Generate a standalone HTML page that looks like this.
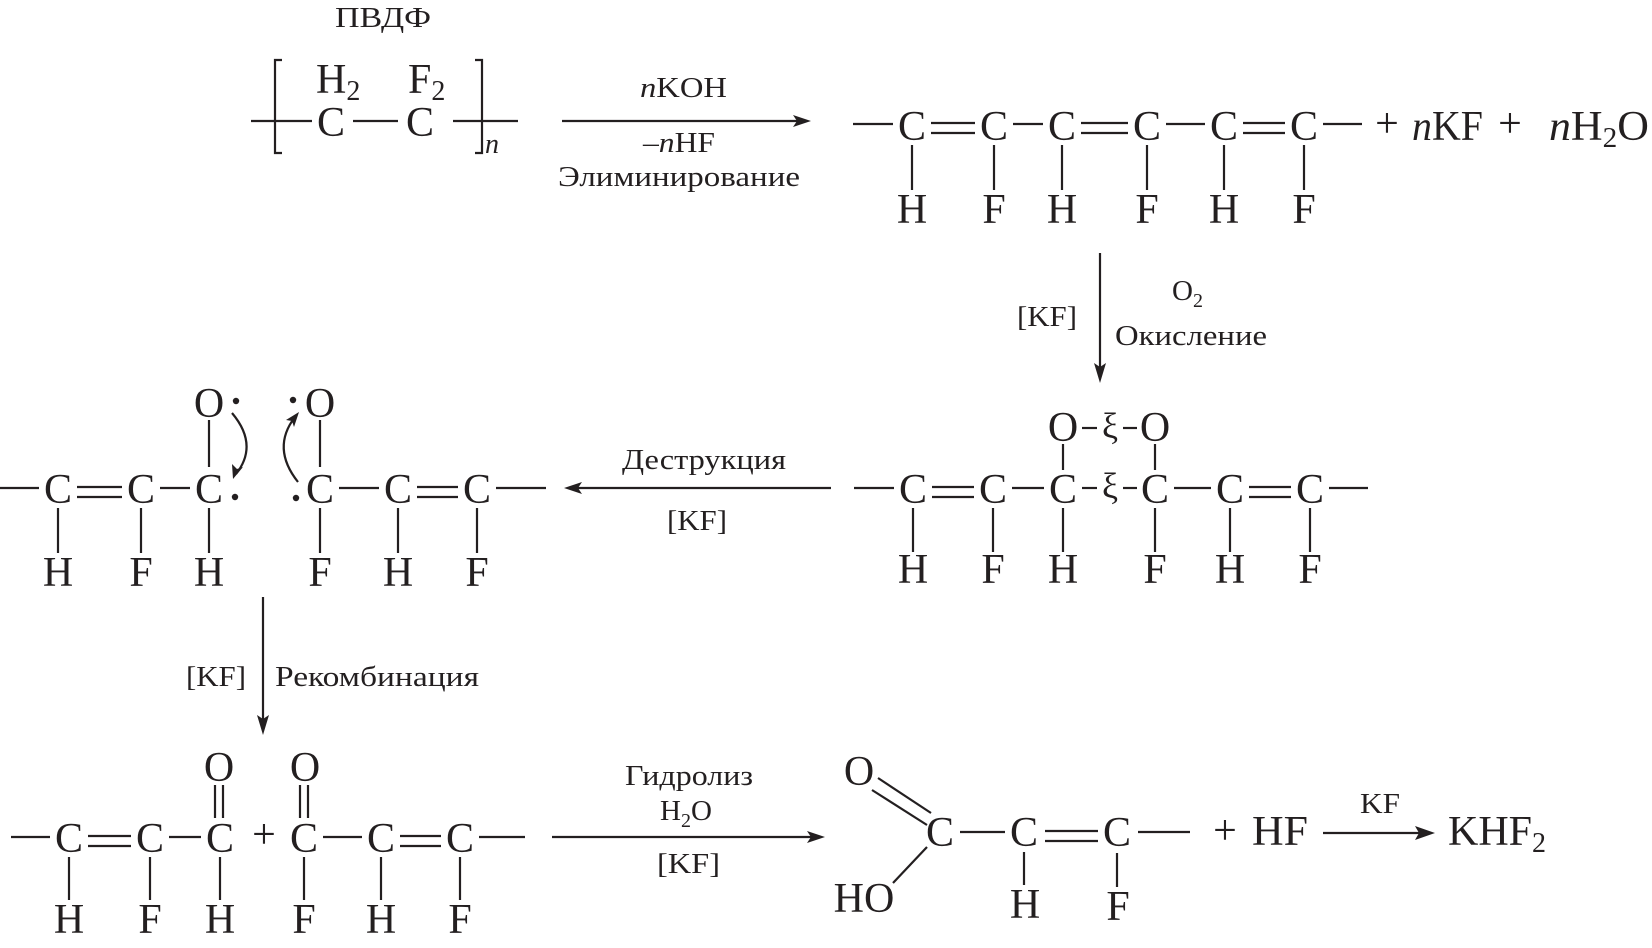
<!DOCTYPE html>
<html>
<head>
<meta charset="utf-8">
<style>
html,body{margin:0;padding:0;background:#fff;}
svg{display:block;}
text{font-family:"Liberation Serif","DejaVu Serif",serif;fill:#231f20;}
.a{font-size:42px;text-anchor:middle;}
.l{font-size:29px;}
.s{font-size:36px;}
line,path{stroke:#231f20;stroke-width:2.2;fill:none;}
polygon,circle{fill:#231f20;stroke:none;}
</style>
</head>
<body>
<svg width="1652" height="948" viewBox="0 0 1652 948" xmlns="http://www.w3.org/2000/svg">

<!-- ===== Row 1: polymer ===== -->
<text class="l" x="335" y="27" textLength="96" lengthAdjust="spacingAndGlyphs">ПВДФ</text>
<path d="M282,60 L275,60 L275,153 L282,153"/>
<path d="M475,60 L482,60 L482,153 L475,153"/>
<line x1="251" y1="121" x2="312" y2="121"/>
<text class="a" x="331" y="136">C</text>
<line x1="353" y1="121" x2="398" y2="121"/>
<text class="a" x="420" y="136">C</text>
<line x1="453" y1="121" x2="518" y2="121"/>
<text style="font-size:42px" x="316" y="93">H<tspan style="font-size:28px" dy="7">2</tspan></text>
<text style="font-size:42px" x="408" y="93">F<tspan style="font-size:28px" dy="7">2</tspan></text>
<text style="font-size:28px;font-style:italic" x="485" y="153">n</text>

<!-- arrow 1 -->
<line x1="562" y1="121" x2="798" y2="121"/>
<polygon points="811,121 793,115 797,121 793,127"/>
<text class="l" x="640" y="97" textLength="87" lengthAdjust="spacingAndGlyphs"><tspan font-style="italic">n</tspan>KOH</text>
<text class="l" x="643" y="152" textLength="72" lengthAdjust="spacingAndGlyphs">–<tspan font-style="italic">n</tspan>HF</text>
<text class="l" x="558" y="186" textLength="242" lengthAdjust="spacingAndGlyphs">Элиминирование</text>

<!-- polyene chain row 1 -->
<line x1="853" y1="124" x2="893" y2="124"/>
<text class="a" x="912" y="140">C</text>
<line x1="931" y1="123" x2="975" y2="123"/><line x1="931" y1="133" x2="975" y2="133"/>
<text class="a" x="994" y="140">C</text>
<line x1="1013" y1="124" x2="1043" y2="124"/>
<text class="a" x="1062" y="140">C</text>
<line x1="1081" y1="123" x2="1128" y2="123"/><line x1="1081" y1="133" x2="1128" y2="133"/>
<text class="a" x="1147" y="140">C</text>
<line x1="1166" y1="124" x2="1205" y2="124"/>
<text class="a" x="1224" y="140">C</text>
<line x1="1243" y1="123" x2="1285" y2="123"/><line x1="1243" y1="133" x2="1285" y2="133"/>
<text class="a" x="1304" y="140">C</text>
<line x1="1323" y1="124" x2="1362" y2="124"/>
<line x1="912" y1="145" x2="912" y2="190"/>
<line x1="994" y1="145" x2="994" y2="190"/>
<line x1="1062" y1="145" x2="1062" y2="190"/>
<line x1="1147" y1="145" x2="1147" y2="190"/>
<line x1="1224" y1="145" x2="1224" y2="190"/>
<line x1="1304" y1="145" x2="1304" y2="190"/>
<text class="a" x="912" y="223">H</text>
<text class="a" x="994" y="223">F</text>
<text class="a" x="1062" y="223">H</text>
<text class="a" x="1147" y="223">F</text>
<text class="a" x="1224" y="223">H</text>
<text class="a" x="1304" y="223">F</text>
<text class="a" x="1387" y="137">+</text>
<text style="font-size:42px" x="1412" y="140" textLength="71" lengthAdjust="spacingAndGlyphs"><tspan font-style="italic">n</tspan>KF</text>
<text class="a" x="1510" y="137">+</text>
<text style="font-size:42px" x="1549" y="140" textLength="100" lengthAdjust="spacingAndGlyphs"><tspan font-style="italic">n</tspan>H<tspan style="font-size:28px" dy="7">2</tspan><tspan dy="-7">O</tspan></text>

<!-- ===== Row 2: oxidation arrow ===== -->
<line x1="1100" y1="253" x2="1100" y2="368"/>
<polygon points="1100,383 1094,363 1100,367 1106,363"/>
<text class="l" x="1017" y="326" textLength="60" lengthAdjust="spacingAndGlyphs">[KF]</text>
<text class="l" x="1172" y="300">O<tspan style="font-size:20px" dy="7">2</tspan></text>
<text class="l" x="1115" y="345" textLength="152" lengthAdjust="spacingAndGlyphs">Окисление</text>

<!-- ===== Row 3 right: peroxide ===== -->
<line x1="854" y1="488" x2="894" y2="488"/>
<text class="a" x="913" y="503">C</text>
<line x1="932" y1="487" x2="974" y2="487"/><line x1="932" y1="497" x2="974" y2="497"/>
<text class="a" x="993" y="503">C</text>
<line x1="1012" y1="488" x2="1044" y2="488"/>
<text class="a" x="1063" y="503">C</text>
<line x1="1082" y1="488" x2="1097" y2="488"/>
<text class="s" x="1110" y="498" text-anchor="middle">ξ</text>
<line x1="1123" y1="488" x2="1137" y2="488"/>
<text class="a" x="1155" y="503">C</text>
<line x1="1174" y1="488" x2="1211" y2="488"/>
<text class="a" x="1230" y="503">C</text>
<line x1="1249" y1="487" x2="1291" y2="487"/><line x1="1249" y1="497" x2="1291" y2="497"/>
<text class="a" x="1310" y="503">C</text>
<line x1="1329" y1="488" x2="1368" y2="488"/>
<text class="a" x="1063" y="441">O</text>
<line x1="1082" y1="428" x2="1097" y2="428"/>
<text class="s" x="1110" y="438" text-anchor="middle">ξ</text>
<line x1="1123" y1="428" x2="1137" y2="428"/>
<text class="a" x="1155" y="441">O</text>
<line x1="1063" y1="444" x2="1063" y2="470"/>
<line x1="1155" y1="444" x2="1155" y2="470"/>
<line x1="913" y1="508" x2="913" y2="552"/>
<line x1="993" y1="508" x2="993" y2="552"/>
<line x1="1063" y1="508" x2="1063" y2="552"/>
<line x1="1155" y1="508" x2="1155" y2="552"/>
<line x1="1230" y1="508" x2="1230" y2="552"/>
<line x1="1310" y1="508" x2="1310" y2="552"/>
<text class="a" x="913" y="583">H</text>
<text class="a" x="993" y="583">F</text>
<text class="a" x="1063" y="583">H</text>
<text class="a" x="1155" y="583">F</text>
<text class="a" x="1230" y="583">H</text>
<text class="a" x="1310" y="583">F</text>

<!-- destruction arrow -->
<line x1="578" y1="488" x2="831" y2="488"/>
<polygon points="564,488 582,482 578,488 582,494"/>
<text class="l" x="622" y="469" textLength="164" lengthAdjust="spacingAndGlyphs">Деструкция</text>
<text class="l" x="667" y="530" textLength="60" lengthAdjust="spacingAndGlyphs">[KF]</text>

<!-- ===== Row 3 left: radicals ===== -->
<line x1="0" y1="488" x2="39" y2="488"/>
<text class="a" x="58" y="503">C</text>
<line x1="77" y1="487" x2="122" y2="487"/><line x1="77" y1="497" x2="122" y2="497"/>
<text class="a" x="141" y="503">C</text>
<line x1="160" y1="488" x2="190" y2="488"/>
<text class="a" x="209" y="503">C</text>
<circle cx="235" cy="497" r="3.2"/>
<text class="a" x="209" y="417">O</text>
<circle cx="236" cy="401" r="3.2"/>
<line x1="209" y1="420" x2="209" y2="467"/>
<path d="M232,413 Q259,445 236,474"/>
<polygon points="233,479 232,464 237,469 243,467"/>

<circle cx="296" cy="498" r="3.2"/>
<text class="a" x="320" y="503">C</text>
<text class="a" x="320" y="417">O</text>
<circle cx="293" cy="400" r="3.2"/>
<line x1="320" y1="420" x2="320" y2="467"/>
<path d="M298,482 Q271,448 295,417"/>
<polygon points="299,412 286,420 292,421 294,427"/>

<line x1="339" y1="488" x2="379" y2="488"/>
<text class="a" x="398" y="503">C</text>
<line x1="417" y1="487" x2="458" y2="487"/><line x1="417" y1="497" x2="458" y2="497"/>
<text class="a" x="477" y="503">C</text>
<line x1="496" y1="488" x2="546" y2="488"/>
<line x1="58" y1="508" x2="58" y2="553"/>
<line x1="141" y1="508" x2="141" y2="553"/>
<line x1="209" y1="508" x2="209" y2="553"/>
<line x1="320" y1="508" x2="320" y2="553"/>
<line x1="398" y1="508" x2="398" y2="553"/>
<line x1="477" y1="508" x2="477" y2="553"/>
<text class="a" x="58" y="586">H</text>
<text class="a" x="141" y="586">F</text>
<text class="a" x="209" y="586">H</text>
<text class="a" x="320" y="586">F</text>
<text class="a" x="398" y="586">H</text>
<text class="a" x="477" y="586">F</text>

<!-- ===== Row 4: recombination arrow ===== -->
<line x1="263" y1="597" x2="263" y2="720"/>
<polygon points="263,735 257,715 263,719 269,715"/>
<text class="l" x="186" y="686" textLength="60" lengthAdjust="spacingAndGlyphs">[KF]</text>
<text class="l" x="275" y="686" textLength="204" lengthAdjust="spacingAndGlyphs">Рекомбинация</text>

<!-- ===== Row 5 left ===== -->
<line x1="11" y1="837" x2="50" y2="837"/>
<text class="a" x="69" y="852">C</text>
<line x1="88" y1="836" x2="131" y2="836"/><line x1="88" y1="846" x2="131" y2="846"/>
<text class="a" x="150" y="852">C</text>
<line x1="169" y1="837" x2="201" y2="837"/>
<text class="a" x="220" y="852">C</text>
<text class="a" x="264" y="848">+</text>
<text class="a" x="304" y="852">C</text>
<line x1="323" y1="837" x2="362" y2="837"/>
<text class="a" x="381" y="852">C</text>
<line x1="400" y1="836" x2="441" y2="836"/><line x1="400" y1="846" x2="441" y2="846"/>
<text class="a" x="460" y="852">C</text>
<line x1="479" y1="837" x2="525" y2="837"/>
<text class="a" x="219" y="781">O</text>
<text class="a" x="305" y="781">O</text>
<line x1="215" y1="785" x2="215" y2="818"/><line x1="223" y1="785" x2="223" y2="818"/>
<line x1="300" y1="785" x2="300" y2="818"/><line x1="308" y1="785" x2="308" y2="818"/>
<line x1="69" y1="857" x2="69" y2="900"/>
<line x1="150" y1="857" x2="150" y2="900"/>
<line x1="220" y1="857" x2="220" y2="900"/>
<line x1="304" y1="857" x2="304" y2="900"/>
<line x1="381" y1="857" x2="381" y2="900"/>
<line x1="460" y1="857" x2="460" y2="900"/>
<text class="a" x="69" y="933">H</text>
<text class="a" x="150" y="933">F</text>
<text class="a" x="220" y="933">H</text>
<text class="a" x="304" y="933">F</text>
<text class="a" x="381" y="933">H</text>
<text class="a" x="460" y="933">F</text>

<!-- hydrolysis arrow -->
<line x1="552" y1="837" x2="812" y2="837"/>
<polygon points="825,837 807,831 811,837 807,843"/>
<text class="l" x="625" y="785" textLength="128" lengthAdjust="spacingAndGlyphs">Гидролиз</text>
<text class="l" x="660" y="820">H<tspan style="font-size:20px" dy="7">2</tspan><tspan dy="-7">O</tspan></text>
<text class="l" x="657" y="873" textLength="63" lengthAdjust="spacingAndGlyphs">[KF]</text>

<!-- acid -->
<text class="a" x="859" y="785">O</text>
<line x1="872" y1="790" x2="927" y2="825"/>
<line x1="878" y1="778" x2="931" y2="813"/>
<text class="a" x="940" y="846">C</text>
<line x1="927" y1="847" x2="893" y2="883"/>
<text class="a" x="864" y="912">HO</text>
<line x1="960" y1="832" x2="1005" y2="832"/>
<text class="a" x="1024" y="846">C</text>
<line x1="1045" y1="831" x2="1098" y2="831"/><line x1="1045" y1="841" x2="1098" y2="841"/>
<text class="a" x="1117" y="846">C</text>
<line x1="1138" y1="832" x2="1190" y2="832"/>
<line x1="1024" y1="852" x2="1024" y2="885"/>
<line x1="1117" y1="853" x2="1117" y2="887"/>
<text class="a" x="1025" y="918">H</text>
<text class="a" x="1118" y="920">F</text>

<!-- + HF -> KHF2 -->
<text class="a" x="1225" y="844">+</text>
<text style="font-size:42px" x="1252" y="845" textLength="56" lengthAdjust="spacingAndGlyphs">HF</text>
<line x1="1323" y1="833" x2="1420" y2="833"/>
<polygon points="1435,833 1415,826 1419,833 1415,840"/>
<text class="l" x="1360" y="813" textLength="40" lengthAdjust="spacingAndGlyphs">KF</text>
<text style="font-size:42px" x="1448" y="845">KHF<tspan style="font-size:28px" dy="7">2</tspan></text>

</svg>
</body>
</html>
